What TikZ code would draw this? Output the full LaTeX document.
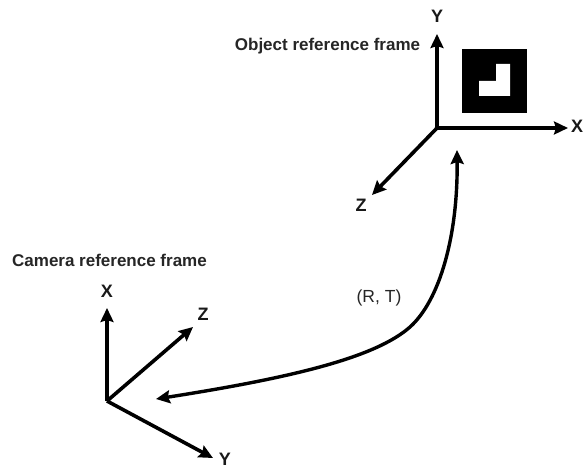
\documentclass[tikz,border=0pt]{standalone}
\usepackage{fontspec}
\setmainfont{Liberation Sans}
\usetikzlibrary{arrows.meta}
\tikzset{
  tipk/.tip={Stealth[length=14pt,width=13pt,inset=2pt]},
  axis/.style={line width=3.6pt,-tipk,black},
  lbl/.style={inner sep=0pt,font=\bfseries\fontsize{17}{19}\selectfont,text=black!85},
  rlbl/.style={inner sep=0pt,font=\fontsize{17.5}{19}\selectfont,text=black!85},
  axl/.style={inner sep=0pt,font=\bfseries\fontsize{18}{20}\selectfont,text=black!90}
}
\begin{document}
\begin{tikzpicture}[x=1pt,y=-1pt]
\useasboundingbox (0,0) rectangle (584,468);
\fill[white] (0,0) rectangle (584,468);
\coordinate (oo) at (437,128);
\coordinate (oy) at (437,34);
\coordinate (ox) at (568,128);
\coordinate (oz) at (372,195);
\coordinate (co) at (107,401);
\coordinate (cx) at (107,308);
\coordinate (cz) at (193,327);
\coordinate (cy) at (213,458);
\coordinate (ra) at (457,150);
\coordinate (rm) at (410,327);
\coordinate (rb) at (156,399);
\draw[axis] (oo) -- (oy);
\draw[axis] (oo) -- (ox);
\draw[axis] (oo) -- (oz);
\draw[axis] (co) -- (cx);
\draw[axis] (co) -- (cz);
\draw[axis] (co) -- (cy);
\draw[line width=3.4pt,tipk-tipk] (ra) .. controls (458,235) and (440,300) .. (rm) .. controls (375,358) and (290,378) .. (rb);
\fill[black] (462,49) rectangle (527,113);
\fill[white] (496,64) -- (510,64) -- (510,96) -- (479,96) -- (479,81) -- (496,81) -- cycle;
\node[axl] (ly) at (437,16) {Y};
\node[axl] (lxo) at (577,126) {X};
\node[axl] (lzo) at (361,205) {Z};
\node[axl] (lxc) at (107,291) {X};
\node[axl] (lzc) at (203,314) {Z};
\node[axl] (lyc) at (225,459) {Y};
\node[lbl] (ot) at (327.5,46) {Object reference frame};
\node[lbl] (ct) at (109.5,260) {Camera reference frame};
\node[rlbl] (rt) at (379,298) {(R, T)};
\end{tikzpicture}
\end{document}
